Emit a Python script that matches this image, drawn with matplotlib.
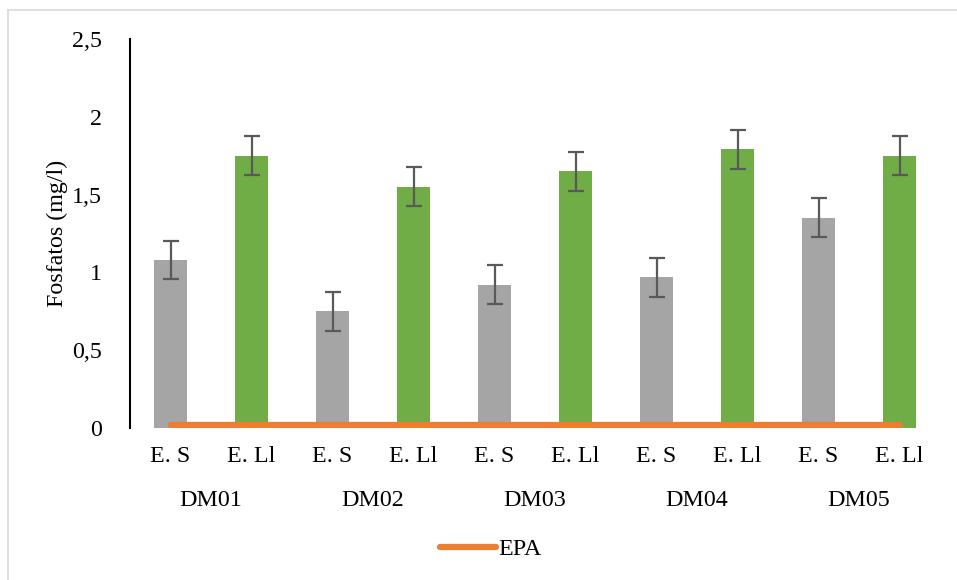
import numpy as np
import matplotlib.pyplot as plt
from matplotlib.lines import Line2D

plt.rcParams['font.family'] = ['Liberation Serif', 'DejaVu Serif']

# Data
sites = ["DM01", "DM02", "DM03", "DM04", "DM05"]
samples = ["E. S", "E. Ll"]
es_vals = [1.08, 0.75, 0.92, 0.97, 1.35]
ell_vals = [1.75, 1.55, 1.65, 1.79, 1.75]
es_err = [0.125, 0.125, 0.125, 0.125, 0.125]
ell_err = [0.125, 0.125, 0.125, 0.125, 0.125]
epa_val = 0.02
y_ticks = [0, 0.5, 1, 1.5, 2, 2.5]
y_labels = ["0", "0,5", "1", "1,5", "2", "2,5"]

gray = "#A5A5A5"
green = "#70AD47"
orange = "#ED7D31"
errc = "#595959"
fs = 17.3

fig = plt.figure(figsize=(9.57, 5.8), dpi=100)
ax = fig.add_axes([130 / 957, 1 - 428 / 580, 810 / 957, (428 - 39) / 580])

# interleave both series into 10 category slots
vals, errs, cols, labels = [], [], [], []
for i in range(len(sites)):
    vals += [es_vals[i], ell_vals[i]]
    errs += [es_err[i], ell_err[i]]
    cols += [gray, green]
    labels += samples
x = np.arange(len(vals))

ax.bar(x, vals, width=0.41, color=cols, zorder=2)
ax.errorbar(x, vals, yerr=errs, fmt="none", ecolor=errc, elinewidth=1.6,
            capsize=5.5, capthick=1.6, zorder=3)
ax.plot(x, [epa_val] * len(x), color=orange, lw=4.5, solid_capstyle="round", zorder=4)

ax.set_xlim(-0.5, len(x) - 0.5)
ax.set_ylim(0, 2.5)
ax.set_yticks(y_ticks)
ax.set_yticklabels(y_labels, fontsize=fs)
ax.tick_params(axis="y", length=0, pad=20)
ax.set_xticks(x)
ax.set_xticklabels(labels, fontsize=fs)
ax.tick_params(axis="x", length=0, pad=13)
for s in ["top", "right", "bottom"]:
    ax.spines[s].set_visible(False)
ax.spines["left"].set_linewidth(1.5)
ax.spines["left"].set_color("black")

# group labels
for i, name in enumerate(sites):
    fig.text((130 + (2 * i + 1) * 81) / 957, 1 - 500 / 580, name, fontsize=fs,
             ha="center", va="center")

fig.text(57 / 957, 1 - 233 / 580, "Fosfatos (mg/l)", fontsize=fs, rotation=90,
         ha="center", va="center")

# legend
fig.legend(handles=[Line2D([0], [0], color=orange, lw=4.5, solid_capstyle="round")],
           labels=["EPA"], loc="center", bbox_to_anchor=(491 / 957, 1 - 549 / 580),
           frameon=False, fontsize=fs, handlelength=2.3, handletextpad=0.1)

# outer chart frame (top and left edges visible)
fig.add_artist(Line2D([8 / 957, 8 / 957], [0, 1 - 10 / 580], color="#D9D9D9", lw=1.2,
                      transform=fig.transFigure))
fig.add_artist(Line2D([8 / 957, 1], [1 - 10 / 580, 1 - 10 / 580], color="#D9D9D9", lw=1.2,
                      transform=fig.transFigure))

fig.savefig("out.png", dpi=100)
